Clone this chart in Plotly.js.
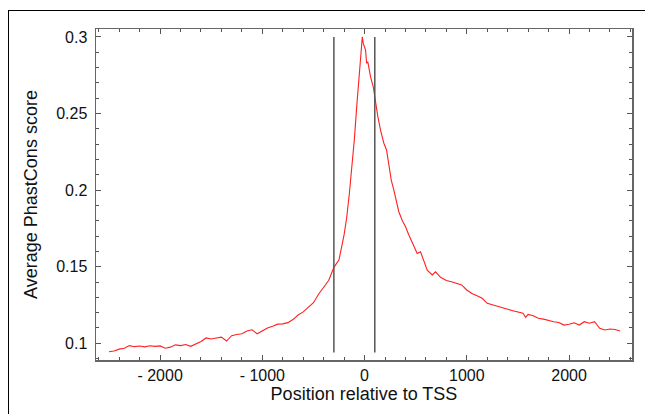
<!DOCTYPE html>
<html><head><meta charset="utf-8">
<script src="https://cdn.plot.ly/plotly-3.0.1.min.js"></script>
<style>
html,body{margin:0;padding:0;background:#fff;}
#chart{position:absolute;left:0;top:0;width:645px;height:414px;}
#frame{position:absolute;left:8px;top:10px;width:640px;height:410px;border-left:1.5px solid #000;border-top:1.5px solid #000;pointer-events:none;}
</style></head>
<body>
<div id="chart"></div>
<div id="frame"></div>
<script>
// Position relative to TSS (bp)
const positions = [-2500,-2450,-2400,-2350,-2300,-2250,-2200,-2150,-2100,-2050,-2000,-1950,-1900,-1850,-1800,-1750,-1700,-1650,-1600,-1550,-1500,-1450,-1400,-1350,-1300,-1250,-1200,-1150,-1100,-1050,-1000,-950,-900,-850,-800,-750,-700,-650,-600,-550,-500,-450,-400,-350,-300,-250,-200,-175,-150,-125,-100,-75,-50,-40,-22,-13,0,10,20,32,45,59,85,108,130,156,189,215,238,261,286,310,335,370,401,430,466,515,547,580,613,662,694,743,800,850,900,950,1000,1050,1100,1150,1200,1250,1300,1350,1400,1450,1500,1550,1575,1600,1650,1700,1750,1800,1850,1900,1950,2000,2050,2100,2150,2200,2250,2300,2350,2400,2450,2500];
// Average PhastCons score
const scores = [0.0945,0.0950,0.0962,0.0968,0.0985,0.0978,0.0982,0.0977,0.0984,0.0980,0.0983,0.0968,0.0975,0.0990,0.0985,0.0992,0.0980,0.0995,0.1012,0.1035,0.1028,0.1035,0.1040,0.1015,0.1050,0.1058,0.1062,0.1080,0.1088,0.1062,0.1080,0.1100,0.1112,0.1125,0.1127,0.1135,0.1155,0.1185,0.1205,0.1232,0.1265,0.1320,0.1368,0.1412,0.1496,0.1545,0.1710,0.1820,0.1970,0.2130,0.2330,0.2560,0.2780,0.2900,0.3001,0.2958,0.2935,0.2914,0.2828,0.2838,0.2790,0.2740,0.2675,0.2567,0.2480,0.2392,0.2306,0.2262,0.2153,0.2066,0.2001,0.1930,0.1859,0.1800,0.1761,0.1712,0.1663,0.1587,0.1598,0.1530,0.1478,0.1446,0.1467,0.1431,0.1410,0.1402,0.1392,0.1381,0.1348,0.1325,0.1310,0.1294,0.1261,0.1250,0.1239,0.1228,0.1222,0.1213,0.1205,0.1196,0.1170,0.1189,0.1180,0.1163,0.1158,0.1148,0.1141,0.1136,0.1119,0.1124,0.1134,0.1119,0.1141,0.1131,0.1141,0.1098,0.1087,0.1093,0.1090,0.1080];
// Boundary markers
const markerPositions = [-300, 100];
const markerYRange = [0.094, 0.3];
const xTickVals = [-2000,-1000,0,1000,2000];
const xTickText = ['- 2000','- 1000','0','1000','2000'];
const yTickVals = [0.1,0.15,0.2,0.25,0.3];
const yTickText = ['0.1','0.15','0.2','0.25','0.3'];

const axisCommon = {
  showline:true, linecolor:'#666', linewidth:1.5, mirror:'ticks',
  ticks:'inside', ticklen:5, tickwidth:1, tickcolor:'#555',
  showgrid:false, zeroline:false,
  tickfont:{family:'Liberation Sans, Arial, sans-serif', size:16, color:'#111'},
  title:{font:{family:'Liberation Sans, Arial, sans-serif', size:18, color:'#111'}}
};

const shapes = markerPositions.map(p => ({
  type:'line', xref:'x', yref:'y', x0:p, x1:p, y0:markerYRange[0], y1:markerYRange[1],
  line:{color:'#555', width:1.5}
}));

const layout = {
  width:645, height:414,
  margin:{l:96, r:13, t:29, b:54},
  paper_bgcolor:'#fff', plot_bgcolor:'#fff',
  showlegend:false,
  xaxis:Object.assign({}, axisCommon, {
    range:[-2627,2616], tickmode:'array', tickvals:xTickVals, ticktext:xTickText,
    minor:{dtick:200, tick0:0, ticks:'inside', ticklen:3, tickcolor:'#555'},
    title:{text:'Position relative to TSS', standoff:4, font:axisCommon.title.font}
  }),
  yaxis:Object.assign({}, axisCommon, {
    range:[0.0891,0.3052], tickmode:'array', tickvals:yTickVals, ticktext:yTickText,
    ticklabelstandoff:4,
    minor:{dtick:0.01, tick0:0, ticks:'inside', ticklen:3, tickcolor:'#555'},
    title:{text:'Average PhastCons score', standoff:14, font:axisCommon.title.font}
  }),
  shapes:shapes
};

Plotly.newPlot('chart', [{
  type:'scatter', mode:'lines', x:positions, y:scores,
  line:{color:'#ff2020', width:1.1}
}], layout, {staticPlot:true, displayModeBar:false});
</script>
</body></html>
